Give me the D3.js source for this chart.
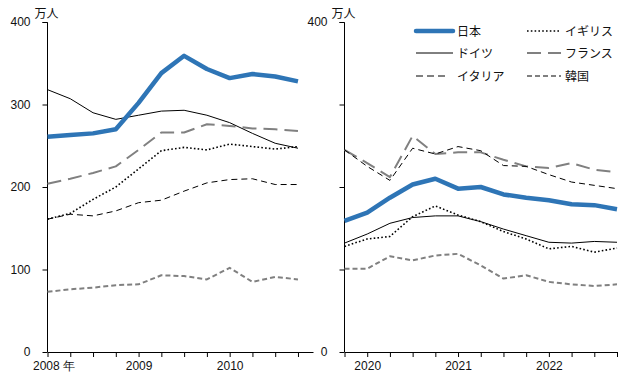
<!DOCTYPE html>
<html lang="ja">
<head>
  <meta charset="UTF-8">
  <title>外国人宿泊者数の推移</title>
  <script src="https://d3js.org/d3.v7.min.js"></script>
  <style>
    body { margin: 0; background: #fff; font-family: "Noto Sans CJK JP", "Noto Sans", sans-serif; }
    #chart text { font-size: 12px; fill: #111; }
    .axis path, .axis line { stroke: #000; }
  </style>
</head>
<body>
  <div id="chart"></div>

  <script>
    // 四半期データ（万人）
    const countries = ["日本", "ドイツ", "イタリア", "イギリス", "フランス", "韓国"];

    const leftYears = ["2008 年", "2009", "2010"];
    const rightYears = ["2020", "2021", "2022"];

    // 2008Q1 - 2010Q4
    const left日本 =   [261, 263, 265, 270, 302, 338, 359, 343, 332, 337, 334, 328];
    const leftドイツ = [318, 307, 290, 282, 287, 292, 293, 287, 278, 265, 253, 247];
    const leftイタリア = [161, 167, 165, 171, 181, 184, 195, 205, 209, 210, 203, 203];
    const leftイギリス = [161, 168, 185, 200, 222, 244, 248, 245, 252, 249, 246, 249];
    const leftフランス = [204, 210, 217, 225, 245, 266, 266, 276, 274, 271, 270, 268];
    const left韓国 =   [73, 76, 78, 81, 82, 93, 92, 88, 102, 85, 91, 88];

    // 2019Q4 - 2022Q4
    const right日本 =   [159, 169, 187, 203, 210, 198, 200, 191, 187, 184, 179, 178, 173];
    const rightドイツ = [132, 143, 156, 163, 165, 165, 158, 149, 141, 133, 132, 134, 133];
    const rightイタリア = [245, 225, 208, 247, 240, 249, 244, 226, 225, 215, 206, 202, 198];
    const rightイギリス = [128, 137, 140, 164, 177, 166, 158, 146, 137, 125, 128, 121, 126];
    const rightフランス = [245, 229, 212, 262, 240, 242, 242, 233, 225, 223, 229, 221, 218];
    const right韓国 =   [101, 101, 116, 111, 117, 119, 105, 89, 93, 85, 82, 80, 82];

    const leftSeries = [left日本, leftドイツ, leftイタリア, leftイギリス, leftフランス, left韓国];
    const rightSeries = [right日本, rightドイツ, rightイタリア, rightイギリス, rightフランス, right韓国];

    const styles = {
      "日本":   { color: "#2e75b6", width: 4.5, dash: null },
      "ドイツ": { color: "#000", width: 1, dash: null },
      "イタリア": { color: "#000", width: 1, dash: "6,4" },
      "イギリス": { color: "#000", width: 1.6, dash: "1.6,2.2" },
      "フランス": { color: "#808080", width: 2, dash: "14,7" },
      "韓国":   { color: "#808080", width: 2, dash: "5,3" }
    };

    const width = 643, height = 379;
    const svg = d3.select("#chart").append("svg")
                  .attr("width", width)
                  .attr("height", height);

    const y = d3.scaleLinear().domain([0, 400]).range([352, 22]);

    function drawPanel(series, years, x0, x1, nPts, extra, labelIdx, showAll) {
      const x = d3.scaleLinear()
                  .domain([0, nPts - 1 + extra])
                  .range([x0, x1]);

      const yAxis = d3.axisLeft(y)
                      .tickValues([0, 100, 200, 300, 400])
                      .tickSize(5)
                      .tickPadding(12)
                      .tickFormat(d => (showAll || d === 0 || d === 400) ? d : "");
      svg.append("g")
         .attr("class", "axis")
         .attr("transform", `translate(${x0},0)`)
         .call(yAxis)
         .call(g => g.select(".domain").attr("d", `M-5,22.5H0V352`));

      const xAxis = d3.axisBottom(x)
                      .tickValues(d3.range(nPts))
                      .tickSize(5)
                      .tickPadding(4)
                      .tickSizeOuter(0)
                      .tickFormat(i => {
                        const k = labelIdx.indexOf(i);
                        return k >= 0 ? years[k] : "";
                      });
      const gx = svg.append("g")
         .attr("class", "axis")
         .attr("transform", `translate(0,352)`)
         .call(xAxis);
      gx.selectAll(".tick text")
        .filter(t => t === labelIdx[0] && years[0].includes("年"))
        .attr("text-anchor", "start")
        .attr("dx", -15);

      svg.append("text")
         .attr("x", x0 - 13)
         .attr("y", 18)
         .text("万人");

      const line = d3.line()
                     .x((d, i) => x(i))
                     .y(d => y(d));

      // 描画順: 細線を先に、日本を最後に
      const order = [5, 4, 3, 2, 1, 0];
      order.forEach(k => {
        const s = styles[countries[k]];
        svg.append("path")
           .datum(series[k])
           .attr("fill", "none")
           .attr("stroke", s.color)
           .attr("stroke-width", s.width)
           .attr("stroke-dasharray", s.dash)
           .attr("stroke-linejoin", "round")
           .attr("d", line);
      });
    }

    drawPanel(leftSeries, leftYears, 47.5, 313, 12, 0.66, [0, 4, 8], true);
    drawPanel(rightSeries, rightYears, 344.5, 617, 13, 0, [1, 5, 9], false);

    // 凡例
    const legendCols = [416, 527];
    const legendRows = [31, 53, 76];
    const legendOrder = [["日本", 0, 0], ["ドイツ", 0, 1], ["イタリア", 0, 2],
                         ["イギリス", 1, 0], ["フランス", 1, 1], ["韓国", 1, 2]];
    const legend = svg.append("g");
    legendOrder.forEach(([name, c, r]) => {
      const s = styles[name];
      const lx = legendCols[c], ly = legendRows[r];
      const lw = name === "イタリア" ? 29 : (c === 0 ? 37 : 34);
      const tx = c === 0 ? 457 : 565;
      legend.append("line")
            .attr("x1", lx).attr("x2", lx + lw)
            .attr("y1", ly).attr("y2", ly)
            .attr("stroke", s.color)
            .attr("stroke-width", s.width)
            .attr("stroke-dasharray", name === "イタリア" ? "7,4" : s.dash)
            .attr("stroke-linecap", name === "日本" ? "round" : "butt");
      legend.append("text")
            .attr("x", tx)
            .attr("y", ly + 4.5)
            .text(name);
    });
  </script>
</body>
</html>
